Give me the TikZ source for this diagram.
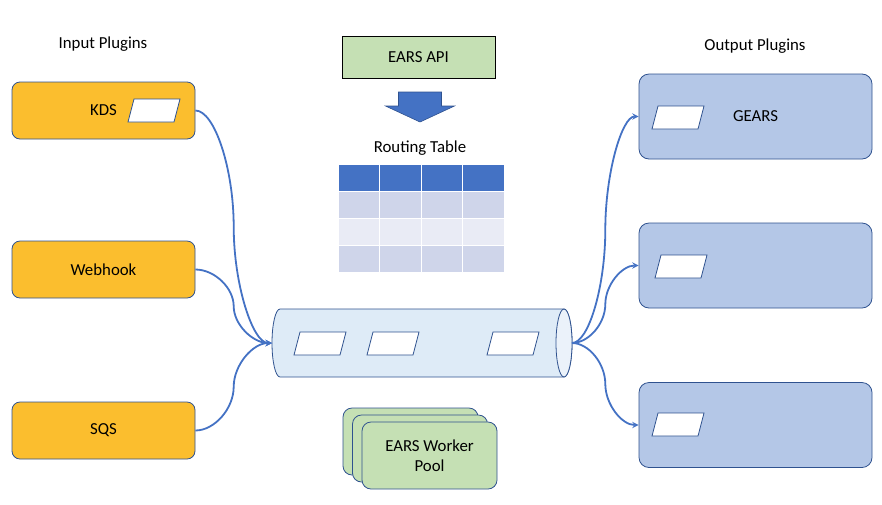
\documentclass[tikz,border=0pt]{standalone}
\usepackage{fontspec}
\setmainfont{Carlito}
\usepackage{tikz}
\usetikzlibrary{arrows}
\usetikzlibrary{calc}
\usetikzlibrary{positioning}
\definecolor{gold}{RGB}{251,190,46}
\definecolor{edge}{HTML}{2F528F}
\definecolor{lightblue}{HTML}{B4C7E7}
\definecolor{lightgreen}{HTML}{C5E0B4}
\definecolor{linkblue}{HTML}{4472C4}
\definecolor{pipeblue}{HTML}{DEEBF7}
\definecolor{pipeend}{HTML}{EBF2FA}
\definecolor{tabhead}{HTML}{4472C4}
\definecolor{tabdark}{HTML}{CFD5EA}
\definecolor{tablight}{HTML}{E9EBF5}

\begin{document}
\begin{tikzpicture}[x=1pt, y=-1pt,
    every node/.style={font=\fontsize{16.8}{20}\selectfont},
    inbox/.style={draw=edge, fill=gold, rounded corners=8pt, minimum width=183pt, minimum height=57pt, line width=0.8pt},
    outbox/.style={draw=edge, fill=lightblue, rounded corners=10pt, minimum width=233pt, minimum height=85pt, line width=0.8pt},
    api/.style={draw=black, fill=lightgreen, minimum width=153pt, minimum height=42pt, line width=0.8pt},
    pool/.style={draw=edge, fill=lightgreen, rounded corners=9pt, minimum width=135pt, minimum height=67pt, align=center, line width=0.8pt},
    slot/.style={draw=edge, fill=white, line width=0.8pt},
    elbow/.style={to path={let \p1=(\tikztostart), \p2=(\tikztotarget) in
      .. controls ({0.75*\x1+0.25*\x2},\y1) and ({0.5*\x1+0.5*\x2},{0.75*\y1+0.25*\y2}) .. ({0.5*\x1+0.5*\x2},{0.5*\y1+0.5*\y2})
      .. controls ({0.5*\x1+0.5*\x2},{0.25*\y1+0.75*\y2}) and ({0.25*\x1+0.75*\x2},\y2) .. (\tikztotarget)}},
    link/.style={draw=linkblue, line width=1.8pt, -stealth, elbow}]
  \useasboundingbox (0,0) rectangle (882,504);

  % input side
  \node (inlabel) at (103,44) {Input Plugins};
  \node[inbox] (kds) at (103.5,110.5) {KDS};
  \node[inbox] (webhook) at (103.5,269.5) {Webhook};
  \node[inbox] (sqs) at (103.5,430.5) {SQS};

  % output side
  \node (outlabel) at (755,46) {Output Plugins};
  \node[outbox] (gears) at (755.5,116.5) {GEARS};
  \node[outbox] (outmid) at (755.5,265.5) {};
  \node[outbox] (outlow) at (755.5,425) {};

  % api and routing table
  \node[api] (earsapi) at (418.5,57) {EARS API};
  \filldraw[draw=edge, fill=linkblue, line width=0.6pt] (398.5,92) -- (441.5,92) -- (441.5,106) -- (454.5,106)
    -- (420,122) -- (385.5,106) -- (398.5,106) -- cycle;
  \node (tablabel) at (420,148) {Routing Table};
  \foreach \c [count=\r from 0] in {tabhead, tabdark, tablight, tabdark} {
    \foreach \i in {0, 1, 2, 3} {
      \filldraw[fill=\c, draw=white, line width=1pt] (338+41.5*\i, 164+27*\r) rectangle +(41.5,27);
    }
  }

  % pipe
  \filldraw[draw=edge, fill=pipeblue, line width=0.8pt] (280,309) -- (564,309) arc(-90:90:8 and 34)
    -- (280,377) arc(90:270:8 and 34) -- cycle;
  \filldraw[draw=edge, fill=pipeend, line width=0.8pt] (564,343) ellipse (8 and 34);
  \coordinate (pipein) at (272,343);
  \coordinate (pipeout) at (572,343);

  % messages
  \foreach \sx/\sy in {128/99, 294/332, 367/332, 487/332, 652/106, 655/255, 652/413} {
    \draw[slot] (\sx+6,\sy) -- ++(46,0) -- ++(-6,23) -- ++(-46,0) -- cycle;
  }

  % worker pool
  \node[pool] (pool1) at (410.5,441.5) {};
  \node[pool] (pool2) at (420,448.5) {};
  \node[pool] (pool3) at (429.5,455.5) {EARS Worker\\Pool};

  % connectors
  \draw[link] (kds.east) to (pipein);
  \draw[link] (webhook.east) to (pipein);
  \draw[link] (sqs.east) to (pipein);
  \draw[link] (pipeout) to (gears.west);
  \draw[link] (pipeout) to (outmid.west);
  \draw[link] (pipeout) to (outlow.west);
\end{tikzpicture}
\end{document}
